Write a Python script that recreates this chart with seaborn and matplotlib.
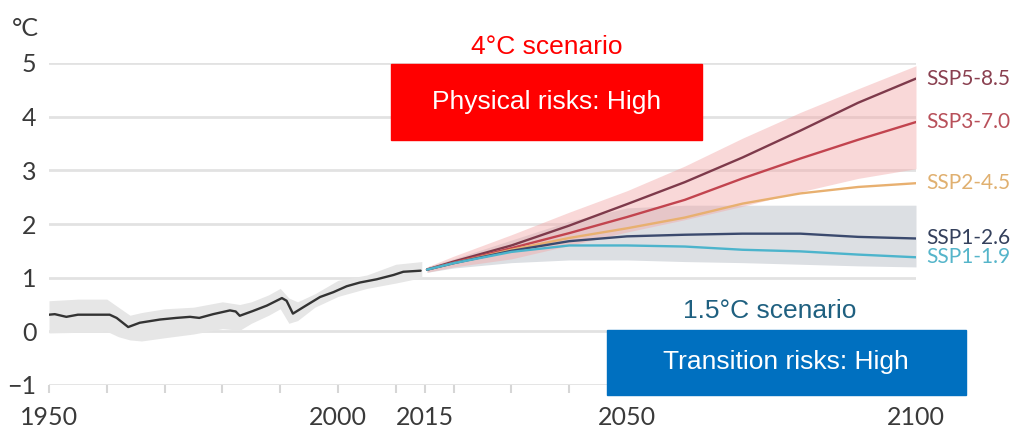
import numpy as np
import pandas as pd
import matplotlib.pyplot as plt
import seaborn as sns
from matplotlib.patches import Rectangle

# Historical warming (°C) and its uncertainty band
hist_years = [1950, 1951, 1953, 1955, 1960.5, 1961.7, 1963.7, 1965.7, 1969.2, 1972,
              1974.4, 1976, 1978.4, 1981.3, 1982.3, 1983, 1985.3, 1987.7, 1990.3, 1991.1,
              1992.2, 1994, 1996.9, 1999.2, 2001.5, 2003.8, 2006.7, 2009.6, 2011.3, 2014.3]
hist_temp = [0.31, 0.32, 0.27, 0.31, 0.31, 0.25, 0.08, 0.16, 0.22, 0.25,
             0.27, 0.25, 0.32, 0.39, 0.37, 0.29, 0.38, 0.48, 0.62, 0.57,
             0.33, 0.45, 0.64, 0.73, 0.84, 0.91, 0.97, 1.05, 1.11, 1.13]
band_years = [1950, 1955, 1960, 1962, 1964, 1966, 1970, 1975, 1980, 1983,
              1985, 1988, 1990, 1991.5, 1993, 1996, 2000, 2005, 2010, 2014.5]
band_hi = [0.57, 0.6, 0.6, 0.45, 0.3, 0.35, 0.42, 0.45, 0.55, 0.5,
           0.55, 0.68, 0.8, 0.62, 0.55, 0.7, 0.95, 1.05, 1.25, 1.3]
band_lo = [-0.03, -0.02, 0.0, -0.1, -0.16, -0.18, -0.12, -0.05, 0.05, 0.02,
           0.15, 0.3, 0.42, 0.15, 0.2, 0.45, 0.65, 0.8, 0.9, 1.0]

# Scenario projections
proj_years = [2015.4, 2020, 2030, 2040, 2050, 2060, 2070, 2080, 2090, 2100]
ssp585 = [1.15, 1.3, 1.6, 1.97, 2.37, 2.78, 3.24, 3.74, 4.26, 4.71]
ssp370 = [1.15, 1.28, 1.55, 1.83, 2.13, 2.45, 2.85, 3.22, 3.57, 3.9]
ssp245 = [1.15, 1.27, 1.52, 1.74, 1.92, 2.12, 2.38, 2.57, 2.69, 2.76]
ssp126 = [1.15, 1.27, 1.5, 1.68, 1.77, 1.8, 1.82, 1.82, 1.76, 1.73]
ssp119 = [1.15, 1.27, 1.48, 1.6, 1.6, 1.58, 1.52, 1.49, 1.43, 1.38]
red_hi = [1.2, 1.4, 1.8, 2.22, 2.62, 3.08, 3.6, 4.08, 4.52, 4.95]
red_lo = [1.1, 1.2, 1.35, 1.6, 1.85, 2.08, 2.33, 2.6, 2.85, 3.03]
grey_hi = [1.2, 1.35, 1.7, 2.05, 2.3, 2.35, 2.35, 2.35, 2.35, 2.35]
grey_lo = [1.1, 1.18, 1.28, 1.33, 1.33, 1.3, 1.28, 1.25, 1.22, 1.2]

scenarios = ['SSP5-8.5', 'SSP3-7.0', 'SSP2-4.5', 'SSP1-2.6', 'SSP1-1.9']
colors = ['#7e3a4b', '#c2444f', '#e8b070', '#3b4a6e', '#4cb4cc']
label_colors = ['#8a4050', '#b8505a', '#e0b070', '#34405c', '#55b5ca']

xticks_major = [1950, 2000, 2015, 2050, 2100]

sns.set_style('white')
plt.rcParams['font.family'] = ['Lato', 'DejaVu Sans']

fig = plt.figure(figsize=(10.19, 4.33), dpi=100)
ax = fig.add_axes([49 / 1019, 1 - 385 / 433, (916 - 49) / 1019, (385 - 63) / 433])

ax.fill_between(band_years, band_lo, band_hi, color='#e6e6e6', lw=0, zorder=1)
ax.fill_between(proj_years, grey_lo, grey_hi, color='#dcdfe3', lw=0, zorder=1)
ax.fill_between(proj_years, red_lo, red_hi, color='#f3a9a9', alpha=0.45, lw=0, zorder=2)

hist_df = pd.DataFrame({'year': hist_years, 'temp': hist_temp})
sns.lineplot(data=hist_df, x='year', y='temp', color='#333333', lw=1.7, ax=ax, zorder=4)

proj_df = pd.DataFrame({'year': proj_years * 5,
                        'temp': ssp585 + ssp370 + ssp245 + ssp126 + ssp119,
                        'scenario': np.repeat(scenarios, len(proj_years))})
sns.lineplot(data=proj_df, x='year', y='temp', hue='scenario', hue_order=scenarios,
             palette=colors, lw=1.7, ax=ax, legend=False, zorder=4)

ends = [ssp585[-1], ssp370[-1], ssp245[-1], ssp126[-1], ssp119[-1]]
for name, c, v in zip(scenarios, label_colors, ends):
    ax.text(2101.8, v, name, color=c, fontsize=15, va='center', ha='left', clip_on=False)

ax.set_xlim(1950, 2100)
ax.set_ylim(-1, 5)
ax.set_yticks(range(-1, 6))
ax.set_yticklabels(['\u22121', '0', '1', '2', '3', '4', '5'])
ax.set_xticks(xticks_major)
ax.set_xticks([y for y in range(1960, 2100, 10) if y not in xticks_major], minor=True)
ax.grid(axis='y', color='#e2e2e2', lw=2)
ax.grid(axis='x', visible=False)
for s in ax.spines.values():
    s.set_visible(False)
ax.tick_params(axis='y', length=0, pad=9, labelsize=18, labelcolor='#3a3a3a')
ax.tick_params(axis='x', which='both', direction='out', length=6, width=1.5,
               color='#d6d6d6', pad=9, labelsize=18, labelcolor='#3a3a3a', bottom=True)
ax.set_xlabel('')
ax.set_ylabel('')

fig.text(12 / 1019, 1 - 29 / 433, '°C', fontsize=18, color='#3a3a3a', va='center', ha='left')

# Scenario callouts
arial = ['Liberation Sans', 'DejaVu Sans']
fig.patches.append(Rectangle((391 / 1019, 1 - 140 / 433), 311 / 1019, 76 / 433,
                             transform=fig.transFigure, color='#ff0000', zorder=5))
fig.text(547 / 1019, 1 - 102 / 433, 'Physical risks: High', color='white', fontsize=19,
         family=arial, ha='center', va='center', zorder=6)
fig.text(547 / 1019, 1 - 47 / 433, '4°C scenario', color='#ff0000', fontsize=19,
         family=arial, ha='center', va='center')

fig.patches.append(Rectangle((607 / 1019, 1 - 395 / 433), 359 / 1019, 65 / 433,
                             transform=fig.transFigure, color='#0070c0', zorder=5))
fig.text(786 / 1019, 1 - 362 / 433, 'Transition risks: High', color='white', fontsize=19,
         family=arial, ha='center', va='center', zorder=6)
fig.text(770 / 1019, 1 - 311 / 433, '1.5°C scenario', color='#1f6080', fontsize=19,
         family=arial, ha='center', va='center')

fig.savefig('out.png', dpi=100)
